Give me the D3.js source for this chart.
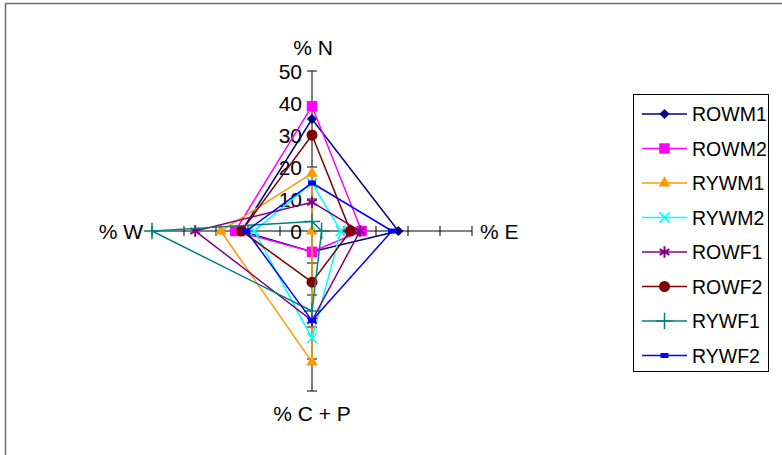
<!DOCTYPE html>
<html>
<head>
<meta charset="utf-8">
<script src="https://cdn.jsdelivr.net/npm/d3@7"></script>
<style>
  body { margin: 0; background: #fff; }
  svg text { font-family: "Liberation Sans", Arial, sans-serif; fill: #000; }
</style>
</head>
<body>
<div id="chart"></div>
<script>
// axes go clockwise from the top
var axes = ["% N", "% E", "% C + P", "% W"];
var ticks = [0, 10, 20, 30, 40, 50];

var series = ["ROWM1", "ROWM2", "RYWM1", "RYWM2", "ROWF1", "ROWF2", "RYWF1", "RYWF2"];
// values in axis order: N, E, C+P, W
var rowm1 = [35, 27, 6.5, 22];
var rowm2 = [39, 15.5, 6.5, 24];
var rywm1 = [18, 0, 41, 28.5];
var rywm2 = [15, 9, 33.5, 18];
var rowf1 = [9, 15, 28, 36.5];
var rowf2 = [30, 12, 16, 22];
var rywf1 = [3, 3, 25, 50];
var rywf2 = [15, 25, 28, 20.5];

var values = [rowm1, rowm2, rywm1, rywm2, rowf1, rowf2, rywf1, rywf2];
var colours = ["#000080", "#FF00FF", "#FF9900", "#00FFFF", "#800080", "#800000", "#008080", "#0000FF"];
var markers = ["diamond", "square", "triangle", "x", "asterisk", "circle", "plus", "rect"];

var width = 782, height = 455;
var cx = 312, cy = 231;
var axisFont = 21;

var svg = d3.select("#chart")
    .append("svg")
    .attr("width", width)
    .attr("height", height);

// outer frame (only top and left edges are in view)
svg.append("rect")
    .attr("x", 5.5).attr("y", 3.5)
    .attr("width", 900).attr("height", 600)
    .attr("fill", "none")
    .attr("stroke", "#6e6e6e")
    .attr("stroke-width", 1.5);

var r = d3.scaleLinear()
    .domain([0, 50])
    .range([0, 160]);

var angle = d3.scalePoint()
    .domain(axes)
    .range([0, 2 * Math.PI * 3 / 4]);

function px(a, v) { return cx + r(v) * Math.sin(angle(a)); }
function py(a, v) { return cy - r(v) * Math.cos(angle(a)); }

var g = svg.append("g");

// axis lines
axes.forEach(function (a) {
    g.append("line")
        .attr("x1", px(a, 0)).attr("y1", py(a, 0))
        .attr("x2", px(a, 50)).attr("y2", py(a, 50))
        .attr("stroke", "#000")
        .attr("stroke-width", 1);
    ticks.slice(1).forEach(function (t) {
        var horiz = (a == "% E" || a == "% W");
        g.append("line")
            .attr("x1", px(a, t) - (horiz ? 0 : 5)).attr("y1", py(a, t) - (horiz ? 5 : 0))
            .attr("x2", px(a, t) + (horiz ? 0 : 5)).attr("y2", py(a, t) + (horiz ? 5 : 0))
            .attr("stroke", "#000")
            .attr("stroke-width", 1);
    });
});

// tick labels on N axis
g.selectAll(".tick-label")
    .data(ticks)
    .enter().append("text")
    .attr("class", "tick-label")
    .attr("x", cx - 10)
    .attr("y", function (d) { return py("% N", d) + 7.5; })
    .attr("text-anchor", "end")
    .attr("font-size", axisFont)
    .text(function (d) { return d; });

// axis titles
g.append("text").attr("x", cx + 1).attr("y", 55).attr("text-anchor", "middle").attr("font-size", axisFont).text(axes[0]);
g.append("text").attr("x", px("% E", 50) + 8).attr("y", cy + 7.5).attr("text-anchor", "start").attr("font-size", axisFont).text(axes[1]);
g.append("text").attr("x", cx).attr("y", 421).attr("text-anchor", "middle").attr("font-size", axisFont).text(axes[2]);
g.append("text").attr("x", px("% W", 50) - 9).attr("y", cy + 7.5).attr("text-anchor", "end").attr("font-size", axisFont).text(axes[3]);

var line = d3.lineRadial()
    .angle(function (d, i) { return angle(axes[i]); })
    .radius(function (d) { return r(d); })
    .curve(d3.curveLinearClosed);

function drawMarker(sel, type, colour) {
    if (type == "diamond") {
        sel.append("path").attr("d", d3.symbol(d3.symbolSquare, 52)()).attr("transform", "rotate(45)").attr("fill", colour);
    } else if (type == "square") {
        sel.append("path").attr("d", d3.symbol(d3.symbolSquare, 110)()).attr("fill", colour);
    } else if (type == "triangle") {
        sel.append("path").attr("d", d3.symbol(d3.symbolTriangle, 60)()).attr("fill", colour);
    } else if (type == "x") {
        sel.append("path").attr("d", d3.symbol(d3.symbolTimes, 70)()).attr("fill", "none").attr("stroke", colour).attr("stroke-width", 1.5);
    } else if (type == "asterisk") {
        sel.append("path").attr("d", d3.symbol(d3.symbolAsterisk, 90)()).attr("fill", "none").attr("stroke", colour).attr("stroke-width", 2);
    } else if (type == "circle") {
        sel.append("circle").attr("r", 5.5).attr("fill", colour);
    } else if (type == "plus") {
        sel.append("path").attr("d", d3.symbol(d3.symbolPlus, 90)()).attr("fill", "none").attr("stroke", colour).attr("stroke-width", 1.5);
    } else if (type == "rect") {
        sel.append("rect").attr("x", -4).attr("y", -2.5).attr("width", 8).attr("height", 5).attr("fill", colour);
    }
}

// series
values.forEach(function (vals, i) {
    var sg = g.append("g");
    sg.append("path")
        .attr("transform", "translate(" + cx + "," + cy + ")")
        .attr("d", line(vals))
        .attr("fill", "none")
        .attr("stroke", colours[i])
        .attr("stroke-width", 1.5);
    vals.forEach(function (v, j) {
        var m = sg.append("g")
            .attr("transform", "translate(" + px(axes[j], v) + "," + py(axes[j], v) + ")");
        drawMarker(m, markers[i], colours[i]);
    });
});

// legend
var legend = svg.append("g");
legend.append("rect")
    .attr("x", 633.5).attr("y", 94.5)
    .attr("width", 135).attr("height", 277)
    .attr("fill", "#fff")
    .attr("stroke", "#000")
    .attr("stroke-width", 1);

var ly = d3.scalePoint()
    .domain(series)
    .range([114, 355.5]);

series.forEach(function (s, i) {
    var item = legend.append("g").attr("transform", "translate(0," + ly(s) + ")");
    item.append("line")
        .attr("x1", 642).attr("x2", 687)
        .attr("stroke", colours[i])
        .attr("stroke-width", 1.5);
    drawMarker(item.append("g").attr("transform", "translate(664.5,0)"), markers[i], colours[i]);
    item.append("text")
        .attr("x", 692)
        .attr("y", 7)
        .attr("font-size", 19.5)
        .text(s);
});
</script>
</body>
</html>
